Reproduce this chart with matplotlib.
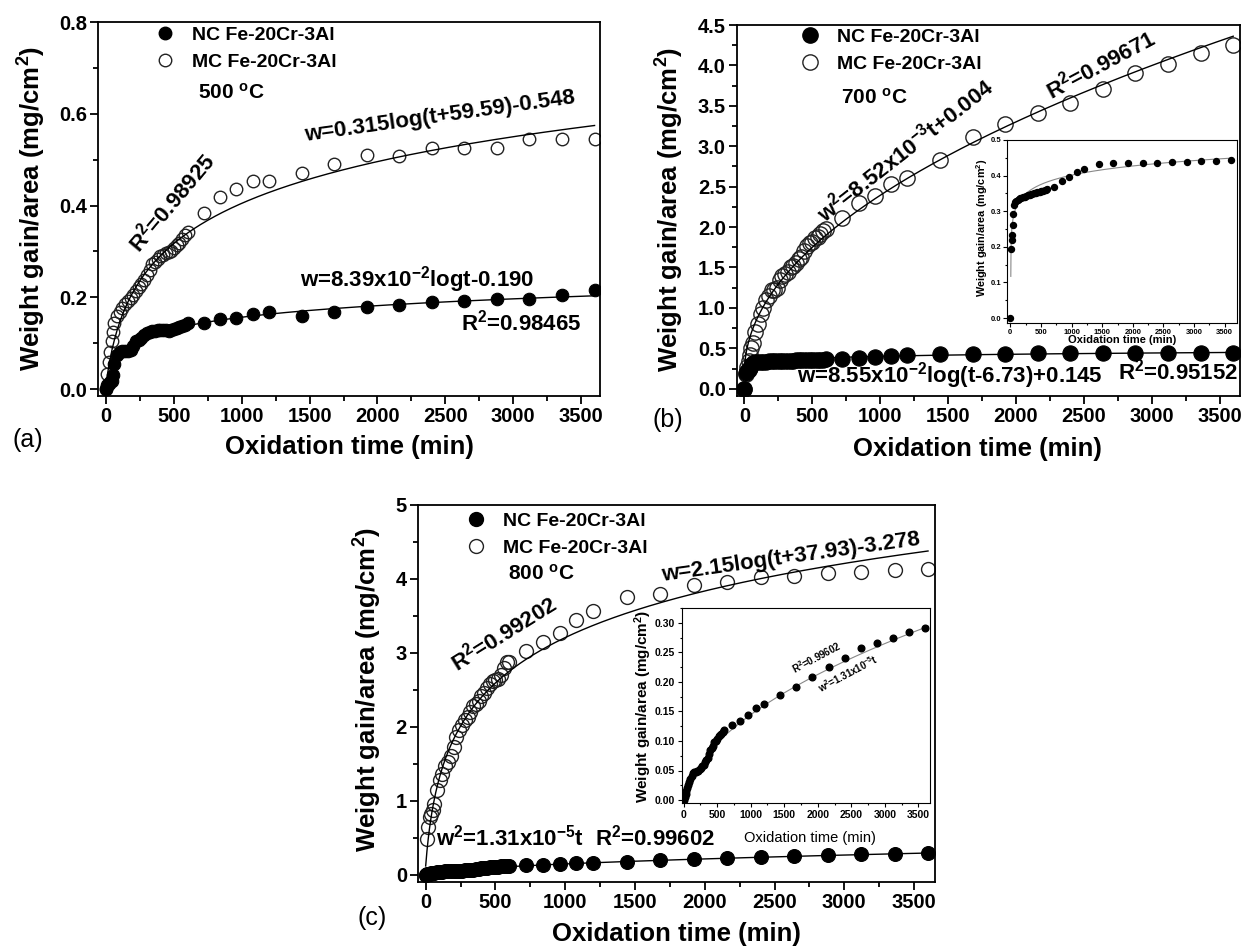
import numpy as np
import matplotlib
matplotlib.use("Agg")
import matplotlib.pyplot as plt
from matplotlib.ticker import MultipleLocator, FormatStrFormatter
from matplotlib.lines import Line2D

plt.rcParams["font.family"] = ["Liberation Sans", "DejaVu Sans"]
plt.rcParams["mathtext.default"] = "regular"

# ---------------- data (weight gain, mg/cm^2) ----------------
time_min = [0, 10, 20, 30, 40, 50, 60, 80, 100, 120, 140, 160, 180, 200, 220, 240,
            260, 280, 300, 320, 340, 360, 380, 400, 420, 440, 460, 480, 500, 520,
            540, 560, 580, 600, 720, 840, 960, 1080, 1200, 1440, 1680, 1920, 2160,
            2400, 2640, 2880, 3120, 3360, 3600]

nc_500 = [0.000, 0.010, 0.012, 0.015, 0.018, 0.030, 0.055, 0.075, 0.080, 0.082, 0.082,
          0.083, 0.085, 0.095, 0.105, 0.108, 0.112, 0.118, 0.122, 0.125, 0.127, 0.127,
          0.128, 0.128, 0.129, 0.128, 0.127, 0.128, 0.130, 0.133, 0.135, 0.138, 0.140,
          0.143, 0.143, 0.152, 0.156, 0.163, 0.168, 0.160, 0.168, 0.179, 0.183, 0.190,
          0.192, 0.196, 0.196, 0.205, 0.215]
mc_500 = [0.000, 0.034, 0.059, 0.081, 0.105, 0.124, 0.143, 0.160, 0.168, 0.176, 0.185,
          0.192, 0.198, 0.205, 0.213, 0.222, 0.229, 0.238, 0.248, 0.260, 0.272, 0.278,
          0.284, 0.289, 0.293, 0.296, 0.299, 0.302, 0.308, 0.314, 0.318, 0.328, 0.336,
          0.342, 0.383, 0.419, 0.435, 0.453, 0.453, 0.471, 0.491, 0.510, 0.508, 0.526,
          0.526, 0.526, 0.544, 0.544, 0.544]

nc_700 = [0.000, 0.195, 0.218, 0.232, 0.262, 0.292, 0.318, 0.325, 0.328, 0.331, 0.333,
          0.336, 0.337, 0.339, 0.341, 0.341, 0.343, 0.345, 0.345, 0.346, 0.348, 0.348,
          0.350, 0.350, 0.351, 0.353, 0.353, 0.354, 0.356, 0.356, 0.357, 0.359, 0.360,
          0.362, 0.369, 0.385, 0.397, 0.409, 0.419, 0.433, 0.434, 0.434, 0.436, 0.436,
          0.438, 0.438, 0.440, 0.441, 0.443]
mc_700 = [0.00, 0.18, 0.27, 0.34, 0.42, 0.50, 0.57, 0.70, 0.80, 0.92, 1.00, 1.10, 1.15,
          1.22, 1.22, 1.25, 1.34, 1.40, 1.42, 1.45, 1.50, 1.52, 1.55, 1.60, 1.63, 1.70,
          1.76, 1.80, 1.82, 1.86, 1.88, 1.92, 1.95, 1.97, 2.11, 2.30, 2.38, 2.53, 2.61,
          2.83, 3.12, 3.28, 3.41, 3.54, 3.71, 3.90, 4.02, 4.15, 4.25]

nc_800 = [0.000, 0.003, 0.006, 0.010, 0.015, 0.020, 0.025, 0.030, 0.036, 0.041, 0.045,
          0.047, 0.048, 0.049, 0.050, 0.052, 0.055, 0.057, 0.060, 0.064, 0.068, 0.072,
          0.078, 0.085, 0.088, 0.092, 0.098, 0.100, 0.104, 0.108, 0.110, 0.112, 0.115,
          0.118, 0.127, 0.134, 0.144, 0.155, 0.162, 0.177, 0.192, 0.209, 0.225, 0.240,
          0.258, 0.266, 0.275, 0.284, 0.292]
mc_800 = [0.00, 0.48, 0.65, 0.78, 0.82, 0.88, 0.96, 1.14, 1.28, 1.36, 1.47, 1.53, 1.60,
          1.72, 1.86, 1.95, 2.02, 2.09, 2.13, 2.20, 2.28, 2.31, 2.35, 2.41, 2.45, 2.52,
          2.58, 2.62, 2.63, 2.65, 2.70, 2.80, 2.87, 2.88, 3.02, 3.15, 3.27, 3.44, 3.56,
          3.75, 3.80, 3.92, 3.96, 4.02, 4.04, 4.08, 4.09, 4.12, 4.14]

legend_labels = ["NC Fe-20Cr-3Al", "MC Fe-20Cr-3Al"]

# fitted kinetic curves (coefficients)
fit_mc500 = (0.315, 59.59, -0.548)        # w = a*log(t+b)+c
fit_nc500 = (8.39e-2, -0.095)             # w = a*log(t)+c
fit_mc700 = (4.81e-3, 0.20)               # w = sqrt(k*t)+c
fit_nc700 = (8.55e-2, -6.73, 0.145)       # w = a*log(t+b)+c
fit_mc800 = (2.15, 37.93, -3.278)         # w = a*log(t+b)+c
fit_nc800 = (5.2e-3, -0.02)               # w = a*sqrt(t)+c

# ---------------- figure ----------------
W, H = 1241, 948
fig = plt.figure(figsize=(W / 100, H / 100), dpi=100)


def add_ax(l, t, r, b):
    return fig.add_axes([l / W, 1 - b / H, (r - l) / W, (b - t) / H])


def ftext(x, y, s, **kw):
    return fig.text(x / W, 1 - y / H, s, **kw)


def style(ax, xmaj, xmin, ymaj, ymin, fs, yfmt, lw=1.3, tl=6, pad=2):
    ax.xaxis.set_major_locator(MultipleLocator(xmaj))
    ax.xaxis.set_minor_locator(MultipleLocator(xmin))
    ax.yaxis.set_major_locator(MultipleLocator(ymaj))
    ax.yaxis.set_minor_locator(MultipleLocator(ymin))
    ax.yaxis.set_major_formatter(FormatStrFormatter(yfmt))
    ax.tick_params(which="both", direction="out", top=False, right=False,
                   width=lw, labelsize=fs, pad=pad)
    ax.tick_params(which="major", length=tl)
    ax.tick_params(which="minor", length=tl * 0.6)
    for sp in ax.spines.values():
        sp.set_linewidth(lw)
    for lab in ax.get_xticklabels() + ax.get_yticklabels():
        lab.set_fontweight("bold")


t = np.array(time_min, dtype=float)


def main_panel(ax, nc, mc, ms):
    ax.plot(t, mc, "o", ms=ms, mfc="none", mec="#222222", mew=1.0, zorder=2)
    ax.plot(t, nc, "o", ms=ms, mfc="black", mec="black", mew=0.8, zorder=3)


def legend(ax, x, y, ms):
    h = [Line2D([], [], ls="none", marker="o", ms=ms, mfc="black", mec="black"),
         Line2D([], [], ls="none", marker="o", ms=ms, mfc="none", mec="#222222", mew=1.0)]
    lg = ax.legend(h, legend_labels, loc="upper left",
                   bbox_to_anchor=(x / W, 1 - y / H), bbox_transform=fig.transFigure,
                   frameon=False, handlelength=1.0, handletextpad=0.9,
                   labelspacing=0.5, borderaxespad=0, borderpad=0,
                   prop={"size": 14, "weight": "bold"})
    return lg


TICK_FS = 14.5
ANN_FS = 16
lab_kw = dict(fontsize=18.5, fontweight="bold")
ylab = "Weight gain/area (mg/cm$^2$)"
xlab = "Oxidation time (min)"

# ---------------- (a) 500 C ----------------
axa = add_ax(98, 22, 600, 396)
main_panel(axa, nc_500, mc_500, 9)
tt = np.linspace(0, 3600, 400)
a, b, c = fit_mc500
axa.plot(tt, a * np.log10(tt + b) + c, color="black", lw=1.0, zorder=4)
tt = np.linspace(600, 3600, 300)
a, c = fit_nc500
axa.plot(tt, a * np.log10(tt) + c, color="black", lw=1.0, zorder=4)
axa.set_xlim(-60, 3640)
axa.set_ylim(-0.015, 0.8)
style(axa, 500, 250, 0.2, 0.1, TICK_FS, "%.1f")
legend(axa, 155, 26, 9)
ftext(198, 93, "500 $^o$C", fontsize=15, fontweight="bold", va="center")
ftext(440, 117, "w=0.315log(t+59.59)-0.548", fontsize=ANN_FS, fontweight="bold",
      rotation=8, ha="center", va="center", rotation_mode="anchor")
ftext(172, 203, "R$^2$=0.98925", fontsize=ANN_FS, fontweight="bold",
      rotation=50, ha="center", va="center", rotation_mode="anchor")
ftext(417, 280, "w=8.39x10$^{-2}$logt-0.190", fontsize=ANN_FS, fontweight="bold",
      ha="center", va="center")
ftext(521, 323, "R$^2$=0.98465", fontsize=ANN_FS, fontweight="bold",
      ha="center", va="center")
ftext(349, 447, xlab, ha="center", va="center", **lab_kw)
ftext(32, 209, ylab, ha="center", va="center", rotation=90, **lab_kw)
ftext(28, 440, "(a)", fontsize=18, ha="center", va="center")

# ---------------- (b) 700 C ----------------
axb = add_ax(737, 25, 1240, 396)
main_panel(axb, nc_700, mc_700, 11)
tt = np.linspace(0, 3600, 600)
k, c = fit_mc700
axb.plot(tt, np.sqrt(k * tt) + c, color="black", lw=1.0, zorder=4)
tt = np.linspace(7.2, 3600, 2000)
a, b, c = fit_nc700
axb.plot(tt, a * np.log10(tt + b) + c, color="black", lw=1.0, zorder=4)
axb.set_xlim(-55, 3650)
axb.set_ylim(-0.09, 4.5)
style(axb, 500, 250, 0.5, 0.25, TICK_FS, "%.1f")
legend(axb, 800, 28, 11)
ftext(841, 98, "700 $^o$C", fontsize=15, fontweight="bold", va="center")
ftext(905, 150, "w$^2$=8.52x10$^{-3}$t+0.004", fontsize=ANN_FS, fontweight="bold",
      rotation=38, ha="center", va="center", rotation_mode="anchor")
ftext(1101, 65, "R$^2$=0.99671", fontsize=ANN_FS, fontweight="bold",
      rotation=28, ha="center", va="center", rotation_mode="anchor")
ftext(950, 376, "w=8.55x10$^{-2}$log(t-6.73)+0.145", fontsize=ANN_FS, fontweight="bold",
      ha="center", va="center")
ftext(1178, 372, "R$^2$=0.95152", fontsize=ANN_FS, fontweight="bold",
      ha="center", va="center")
ftext(977, 449, xlab, ha="center", va="center", **lab_kw)
ftext(670, 210, ylab, ha="center", va="center", rotation=90, **lab_kw)
ftext(668, 420, "(b)", fontsize=18, ha="center", va="center")

# inset (b)
axbi = add_ax(1007, 140, 1237, 323)
axbi.plot(t, nc_700, "o", ms=4.3, color="black", zorder=3)
tt = np.linspace(7.2, 3600, 2000)
axbi.plot(tt, a * np.log10(tt + b) + c, color="#888888", lw=0.8, zorder=2)
axbi.set_xlim(-55, 3700)
axbi.set_ylim(-0.014, 0.5)
style(axbi, 500, 250, 0.1, 0.05, 5.5, "%.1f", lw=0.8, tl=3, pad=1)
ftext(1122, 340, xlab, ha="center", va="center", fontsize=8, fontweight="bold")
ftext(982, 228, ylab, ha="center", va="center", rotation=90, fontsize=7.8,
      fontweight="bold")

# ---------------- (c) 800 C ----------------
axc = add_ax(418, 505, 935, 882)
main_panel(axc, nc_800, mc_800, 10)
tt = np.linspace(0, 3600, 400)
a, b, c = fit_mc800
axc.plot(tt, a * np.log10(tt + b) + c, color="black", lw=1.0, zorder=4)
a, c = fit_nc800
axc.plot(tt, np.clip(a * np.sqrt(tt) + c, 0, None), color="black", lw=1.0, zorder=4)
axc.set_xlim(-55, 3650)
axc.set_ylim(-0.1, 5)
style(axc, 500, 250, 1, 0.5, TICK_FS, "%d")
legend(axc, 466, 512, 10)
ftext(508, 574, "800 $^o$C", fontsize=15, fontweight="bold", va="center")
ftext(791, 557, "w=2.15log(t+37.93)-3.278", fontsize=ANN_FS, fontweight="bold",
      rotation=8, ha="center", va="center", rotation_mode="anchor")
ftext(504, 633, "R$^2$=0.99202", fontsize=ANN_FS, fontweight="bold",
      rotation=32, ha="center", va="center", rotation_mode="anchor")
ftext(510, 838, "w$^2$=1.31x10$^{-5}$t", fontsize=ANN_FS, fontweight="bold",
      ha="center", va="center")
ftext(655, 838, "R$^2$=0.99602", fontsize=ANN_FS, fontweight="bold",
      ha="center", va="center")
ftext(676, 934, xlab, ha="center", va="center", **lab_kw)
ftext(368, 690, ylab, ha="center", va="center", rotation=90, **lab_kw)
ftext(372, 918, "(c)", fontsize=18, ha="center", va="center")

# inset (c)
axci = add_ax(682, 608, 930, 803)
axci.plot(t, nc_800, "o", ms=4.8, color="black", zorder=3)
tt = np.linspace(500, 3650, 300)
axci.plot(tt, a * np.sqrt(tt) + c, color="#888888", lw=0.8, zorder=2)
axci.set_xlim(-24, 3672)
axci.set_ylim(-0.005, 0.325)
style(axci, 500, 250, 0.05, 0.025, 7.5, "%.2f", lw=0.8, tl=3)
ftext(810, 838, xlab, ha="center", va="center", fontsize=10.5)
ftext(643, 706, ylab, ha="center", va="center", rotation=90, fontsize=11,
      fontweight="bold")
ftext(817, 657, "R$^2$=0.99602", fontsize=7, fontweight="bold",
      rotation=28, ha="center", va="center", rotation_mode="anchor")
ftext(848, 673, "w$^2$=1.31x10$^{-5}$t", fontsize=7, fontweight="bold",
      rotation=28, ha="center", va="center", rotation_mode="anchor")

fig.savefig("out.png", dpi=100)
